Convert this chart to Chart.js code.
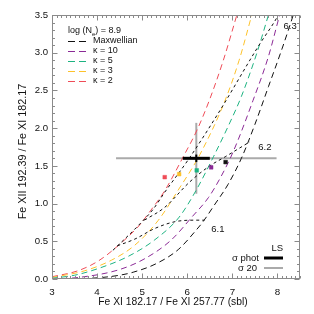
<!DOCTYPE html>
<html><head><meta charset="utf-8">
<script src="https://cdn.jsdelivr.net/npm/chart.js@4/dist/chart.umd.min.js"></script>
<style>html,body{margin:0;padding:0;background:#fff;overflow:hidden}</style>
</head><body>
<canvas id="c" width="314" height="314"></canvas>
<script>
// ---------- data ----------
const xTickValues = [3, 4, 5, 6, 7, 8];
const yTickValues = [0, 0.5, 1, 1.5, 2, 2.5, 3, 3.5];
const xTitle = 'Fe XI 182.17 / Fe XI 257.77 (sbl)';
const yTitle = 'Fe XII 192.39 / Fe XI 182.17';
const seriesNames = ['Maxwellian', 'κ = 10', 'κ = 5', 'κ = 3', 'κ = 2'];
const seriesColors = ['#111111', '#8b2a96', '#1db381', '#fdc22a', '#ef4c57'];

const maxwellian = [[3.0,0.0],[3.5,0.003],[4.0,0.015],[4.5,0.05],[4.8,0.09],[5.3,0.2],[5.8,0.39],[6.2,0.65],[6.35,0.76],[6.6,0.98],[6.9,1.25],[7.2,1.6],[7.5,2.05],[7.8,2.55],[8.1,3.05],[8.35,3.5],[8.45,3.7]];
const kappa10 = [[3.0,0.0],[3.58,0.02],[4.47,0.12],[5.06,0.27],[5.65,0.52],[6.1,0.82],[6.47,1.08],[6.75,1.36],[7.02,1.69],[7.46,2.37],[7.8,2.95],[8.05,3.5],[8.15,3.7]];
const kappa5 = [[3.0,0.01],[3.5,0.05],[4.03,0.14],[4.69,0.3],[5.28,0.52],[5.82,0.82],[6.2,1.18],[6.58,1.62],[6.95,2.08],[7.2,2.42],[7.54,2.99],[7.8,3.5],[7.9,3.7]];
const kappa3 = [[3.0,0.02],[3.73,0.11],[4.32,0.25],[4.84,0.45],[5.36,0.78],[5.8,1.18],[6.28,1.65],[6.84,2.37],[7.15,2.9],[7.43,3.5],[7.52,3.7]];
const kappa2 = [[3.0,0.03],[3.58,0.11],[4.03,0.24],[4.5,0.46],[4.95,0.72],[5.14,0.87],[5.5,1.17],[5.91,1.62],[6.22,1.98],[6.49,2.37],[6.8,2.9],[7.1,3.5],[7.2,3.7]];
const seriesData = [maxwellian, kappa10, kappa5, kappa3, kappa2];

// isotherms log T = 6.1, 6.2, 6.3
const isoLabels = ['6.1', '6.2', '6.3'];
const iso61 = [[4.45,0.44],[4.84,0.53],[5.28,0.67],[5.73,0.76],[6.17,0.78],[6.38,0.78]];
const iso62 = [[5.05,0.78],[5.5,0.95],[6.06,1.29],[6.5,1.5],[6.84,1.62],[7.39,1.82]];
const iso63 = [[4.35,0.38],[4.9,0.7],[5.25,0.93],[5.5,1.15],[6.02,1.58],[6.69,2.2],[7.57,3.08],[8.02,3.5],[8.1,3.6]];
const isoLabelPos = [[6.68,0.66],[7.72,1.75],[8.28,3.35]];

// observation (LS) and its uncertainties
const obsX = 6.2, obsY = 1.6;
const photErrX = 0.3, photErrY = 0.05;
const err20Y = 0.47;
const err20XLow = 4.42, err20XHigh = 7.98;
// best-fit points on each curve
const fitX = [6.85, 6.53, 6.21, 5.82, 5.5];
const fitY = [1.55, 1.48, 1.44, 1.39, 1.35];

const legendTitle = ['log (N', 'e', ') = 8.9'];
const obsLegend = ['LS', 'σ phot', 'σ 20'];

// ---------- chart ----------
const FONT = "'Liberation Sans', Arial, Helvetica, sans-serif";
const pts = a => a.map(p => ({x: p[0], y: p[1]}));

const datasets = [];
datasets.push({data: [{x: err20XLow, y: obsY}, {x: err20XHigh, y: obsY}], showLine: true, borderColor: '#aaaaaa', borderWidth: 2, pointRadius: 0, order: 20});
datasets.push({data: [{x: obsX, y: obsY - err20Y}, {x: obsX, y: obsY + err20Y}], showLine: true, borderColor: '#aaaaaa', borderWidth: 2, pointRadius: 0, order: 20});
seriesData.forEach((d, i) => {
  datasets.push({label: seriesNames[i], data: pts(d), showLine: true, borderColor: seriesColors[i], borderWidth: 1,
    borderDash: [6, 4], pointRadius: 0, cubicInterpolationMode: 'monotone', order: 10});
});
[iso61, iso62, iso63].forEach(d => {
  datasets.push({data: pts(d), showLine: true, borderColor: '#111111', borderWidth: 1, borderDash: [3, 3],
    pointRadius: 0, cubicInterpolationMode: 'monotone', order: 9});
});
datasets.push({data: [{x: obsX - photErrX, y: obsY}, {x: obsX + photErrX, y: obsY}], showLine: true, borderColor: '#000', borderWidth: 3, pointRadius: 0, order: 2});
datasets.push({data: [{x: obsX, y: obsY - photErrY}, {x: obsX, y: obsY + photErrY}], showLine: true, borderColor: '#000', borderWidth: 2, pointRadius: 0, order: 2});
datasets.push({data: fitX.map((x, i) => ({x, y: fitY[i]})), showLine: false, pointStyle: 'rect', pointRadius: 2.6,
  pointBackgroundColor: seriesColors, pointBorderColor: seriesColors, pointBorderWidth: 0.5, order: 1});

const frameTicks = {
  id: 'frameTicks',
  afterDraw(chart) {
    const {ctx, chartArea: a, scales: {x, y}} = chart;
    ctx.save();
    ctx.strokeStyle = '#8a8a8a';
    ctx.lineWidth = 1;
    const L = Math.round(a.left) + 0.5, R = Math.round(a.right) - 0.5, T = Math.round(a.top) + 0.5, B = Math.round(a.bottom) - 0.5;
    ctx.strokeRect(L, T, R - L, B - T);
    ctx.beginPath();
    for (let i = 30; i <= 85; i++) {
      const px = Math.round(x.getPixelForValue(i / 10)) + 0.5;
      const len = i % 10 === 0 ? 5 : 2.5;
      ctx.moveTo(px, B); ctx.lineTo(px, B - len);
      ctx.moveTo(px, T); ctx.lineTo(px, T + len);
    }
    for (let i = 0; i <= 35; i++) {
      const py = Math.round(y.getPixelForValue(i / 10)) + 0.5;
      const len = i % 5 === 0 ? 5 : 2.5;
      ctx.moveTo(L, py); ctx.lineTo(L + len, py);
      ctx.moveTo(R, py); ctx.lineTo(R - len, py);
    }
    ctx.stroke();

    // axis titles
    ctx.fillStyle = '#111';
    ctx.textAlign = 'center';
    ctx.textBaseline = 'middle';
    ctx.font = '10.3px ' + FONT;
    ctx.fillText(xTitle, 173, 302);
    ctx.save();
    ctx.translate(23, 151.5);
    ctx.rotate(-Math.PI / 2);
    ctx.font = '10.8px ' + FONT;
    ctx.fillText(yTitle, 0, 0);
    ctx.restore();

    // isotherm labels
    ctx.font = '9.5px ' + FONT;
    isoLabels.forEach((t, i) => ctx.fillText(t, x.getPixelForValue(isoLabelPos[i][0]), y.getPixelForValue(isoLabelPos[i][1])));

    // legend (top-left)
    ctx.font = '9px ' + FONT;
    ctx.textAlign = 'left';
    let tx = 68, ty = 31;
    ctx.fillText(legendTitle[0], tx, ty);
    tx += ctx.measureText(legendTitle[0]).width;
    ctx.font = '6px ' + FONT;
    ctx.fillText(legendTitle[1], tx, ty + 3);
    tx += ctx.measureText(legendTitle[1]).width;
    ctx.font = '9px ' + FONT;
    ctx.fillText(legendTitle[2], tx, ty);
    seriesNames.forEach((n, i) => {
      const yy = 41 + i * 10;
      ctx.strokeStyle = seriesColors[i];
      ctx.setLineDash([7, 4]);
      ctx.beginPath(); ctx.moveTo(68, yy + 0.5); ctx.lineTo(86, yy + 0.5); ctx.stroke();
      ctx.setLineDash([]);
      ctx.fillStyle = '#111';
      ctx.fillText(n, 93, yy);
    });

    // observation legend (bottom-right)
    ctx.font = '9.5px ' + FONT;
    ctx.textAlign = 'right';
    ctx.fillText(obsLegend[0], 283, 248);
    ctx.fillText(obsLegend[1], 259, 258);
    ctx.fillText(obsLegend[2], 257, 268);
    ctx.strokeStyle = '#000'; ctx.lineWidth = 3;
    ctx.beginPath(); ctx.moveTo(264, 258); ctx.lineTo(283, 258); ctx.stroke();
    ctx.strokeStyle = '#aaa'; ctx.lineWidth = 2;
    ctx.beginPath(); ctx.moveTo(264, 268); ctx.lineTo(283, 268); ctx.stroke();
    ctx.restore();
  }
};

new Chart(document.getElementById('c'), {
  type: 'scatter',
  data: {datasets},
  options: {
    responsive: false,
    animation: false,
    devicePixelRatio: 1,
    layout: {padding: {top: 15, right: 14, left: 0, bottom: 0}},
    plugins: {legend: {display: false}, tooltip: {enabled: false}},
    scales: {
      x: {
        type: 'linear', min: 3, max: 8.5,
        afterBuildTicks: s => { s.ticks = xTickValues.map(v => ({value: v})); },
        afterFit: s => { s.height = 35; },
        grid: {display: false, drawTicks: false},
        border: {display: false},
        ticks: {padding: 7, color: '#111', font: {family: FONT, size: 9.8}, callback: v => String(v)},
        title: {display: false}
      },
      y: {
        type: 'linear', min: 0, max: 3.5,
        afterBuildTicks: s => { s.ticks = yTickValues.map(v => ({value: v})); },
        afterFit: s => { s.width = 52; },
        grid: {display: false, drawTicks: false},
        border: {display: false},
        ticks: {padding: 4, color: '#111', font: {family: FONT, size: 9.6}, callback: v => v.toFixed(1)},
        title: {display: false}
      }
    }
  },
  plugins: [frameTicks]
});
</script>
</body></html>
